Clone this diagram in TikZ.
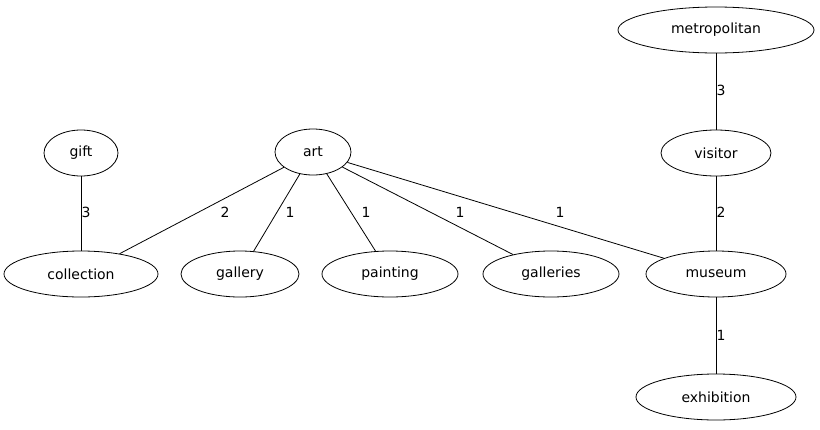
\documentclass[tikz,border=0pt]{standalone}
\usepackage{fontspec}
\setmainfont{DejaVu Sans}
\usetikzlibrary{shapes.geometric}
\begin{document}
\begin{tikzpicture}[x=1pt,y=-1pt,
  vtx/.style={draw,line width=0.8pt,ellipse,inner sep=0pt,minimum height=46pt,font=\fontsize{14pt}{16pt}\selectfont},
  elab/.style={font=\fontsize{14pt}{16pt}\selectfont,inner sep=1pt},
  edge/.style={draw,line width=0.8pt}]
\useasboundingbox (0,0) rectangle (820,429);
\node[vtx,minimum width=196pt] (metropolitan) at (716,30) {metropolitan};
\node[vtx,minimum width=110pt] (visitor) at (716,153) {visitor};
\node[vtx,minimum width=74pt] (gift) at (81,153) {gift};
\node[vtx,minimum width=76pt] (art) at (313,152) {art};
\node[vtx,minimum width=154pt] (collection) at (81,274) {collection};
\node[vtx,minimum width=118pt] (gallery) at (240,274) {gallery};
\node[vtx,minimum width=136pt] (painting) at (390,274) {painting};
\node[vtx,minimum width=136pt] (galleries) at (551,274) {galleries};
\node[vtx,minimum width=140pt] (museum) at (716,274) {museum};
\node[vtx,minimum width=160pt] (exhibition) at (716,397) {exhibition};
\path[edge] (metropolitan) -- (visitor);
\path[edge] (gift) -- (collection);
\path[edge] (art) -- (collection);
\path[edge] (art) -- (gallery);
\path[edge] (art) -- (painting);
\path[edge] (art) -- (galleries);
\path[edge] (art) -- (museum);
\path[edge] (visitor) -- (museum);
\path[edge] (museum) -- (exhibition);
\node[elab] (l1) at (721,90) {3};
\node[elab] (l2) at (86,212) {3};
\node[elab] (l3) at (225,212) {2};
\node[elab] (l4) at (290,212) {1};
\node[elab] (l5) at (366,212) {1};
\node[elab] (l6) at (460,212) {1};
\node[elab] (l7) at (560,212) {1};
\node[elab] (l8) at (721,212) {2};
\node[elab] (l9) at (721,335) {1};
\end{tikzpicture}
\end{document}
